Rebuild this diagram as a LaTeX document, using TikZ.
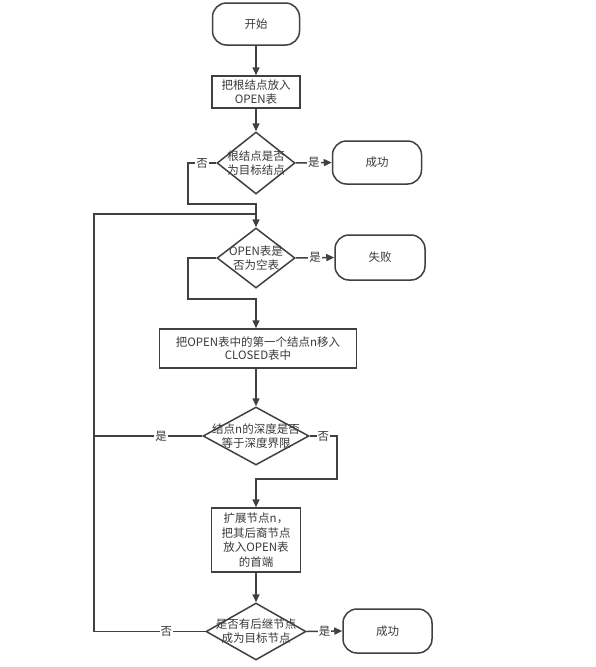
\documentclass[tikz,border=0pt]{standalone}
\usepackage{fontspec}
\setmainfont{Noto Sans CJK SC}
\usetikzlibrary{shapes.geometric,arrows.meta}
\definecolor{lncol}{HTML}{404040}
\definecolor{txcol}{HTML}{3a3a3a}
\begin{document}
\begin{tikzpicture}[x=1pt,y=-1pt,
  base/.style={draw=lncol, line width=1.5pt, text=txcol, font=\fontsize{11.5}{14}\selectfont, align=center, inner sep=0pt},
  term/.style={base, rectangle, rounded corners=14pt},
  proc/.style={base, rectangle},
  dec/.style={base, diamond},
  dtext/.style={text=txcol, font=\fontsize{11.5}{14}\selectfont, align=center, inner sep=0pt},
  conn/.style={draw=lncol, line width=1.5pt},
  arr/.style={conn, -{Triangle[length=8pt,width=7pt]}},
  lab/.style={fill=white, text=txcol, font=\fontsize{11.5}{14}\selectfont, inner sep=1pt}]
\useasboundingbox[fill=white] (0,0) rectangle (596,667);

\node[term, minimum width=87pt, minimum height=42pt] (start) at (256,24) {开始};
\node[proc, minimum width=88pt, minimum height=32pt] (init) at (256,92) {把根结点放入\\OPEN表};
\node[dec, minimum width=78pt, minimum height=62pt, label={[dtext]center:{根结点是否\\为目标结点}}] (d1) at (256,163) {};
\node[term, minimum width=89pt, minimum height=43pt] (succ1) at (377,162.5) {成功};
\node[dec, minimum width=78pt, minimum height=60pt, label={[dtext]center:{OPEN表是\\否为空表}}] (d2) at (256,258) {};
\node[term, minimum width=90pt, minimum height=45pt] (fail) at (380,257.5) {失败};
\node[proc, minimum width=197pt, minimum height=39pt, font=\fontsize{11.5}{13}\selectfont] (move) at (258,348.5) {把OPEN表中的第一个结点n移入\\CLOSED表中};
\node[dec, minimum width=106pt, minimum height=58pt, label={[dtext]center:{结点n的深度是否\\等于深度界限}}] (d3) at (256,436) {};
\node[proc, minimum width=89pt, minimum height=64pt, font=\fontsize{11.5}{14.5}\selectfont] (expand) at (256,540) {扩展节点n，\\把其后裔节点\\放入OPEN表\\的首端};
\node[dec, minimum width=100pt, minimum height=57pt, label={[dtext]center:{是否有后继节点\\成为目标节点}}] (d4) at (256,631.5) {};
\node[term, minimum width=89pt, minimum height=44pt] (succ2) at (387.5,631) {成功};

\coordinate (j1) at (188,204);
\coordinate (j2) at (188,299);
\coordinate (lt) at (94,214);
\coordinate (lm) at (256,214);
\coordinate (r3) at (337,436);
\coordinate (j3) at (337,479);

\draw[arr] (start) -- (init);
\draw[arr] (init) -- (d1);
\draw[arr] (d1.east) -- node[lab]{是} (succ1.west);
\draw[arr] (d1.west) -- node[lab]{否} (d1.west -| j1) -- (j1) -| (d2.north);
\draw[arr] (d2.east) -- node[lab]{是} (fail.west);
\draw[arr] (d2.west) -- (d2.west -| j2) -- (j2) -| (d2.south |- move.north);
\draw[arr] (move.south -| d3.north) -- (d3.north);
\draw[conn] (d3.west) -- node[lab, pos=0.38]{是} (d3.west -| lt);
\draw[arr] (d3.east) -- node[lab]{否} (r3) -- (j3) -| (expand.north);
\draw[arr] (expand) -- (d4);
\draw[arr] (d4.east) -- node[lab]{是} (succ2.west);
\draw[conn] (d4.west) -- node[lab, pos=0.35]{否} (d4.west -| lt) -- (lt) -- (lm);
\end{tikzpicture}
\end{document}
